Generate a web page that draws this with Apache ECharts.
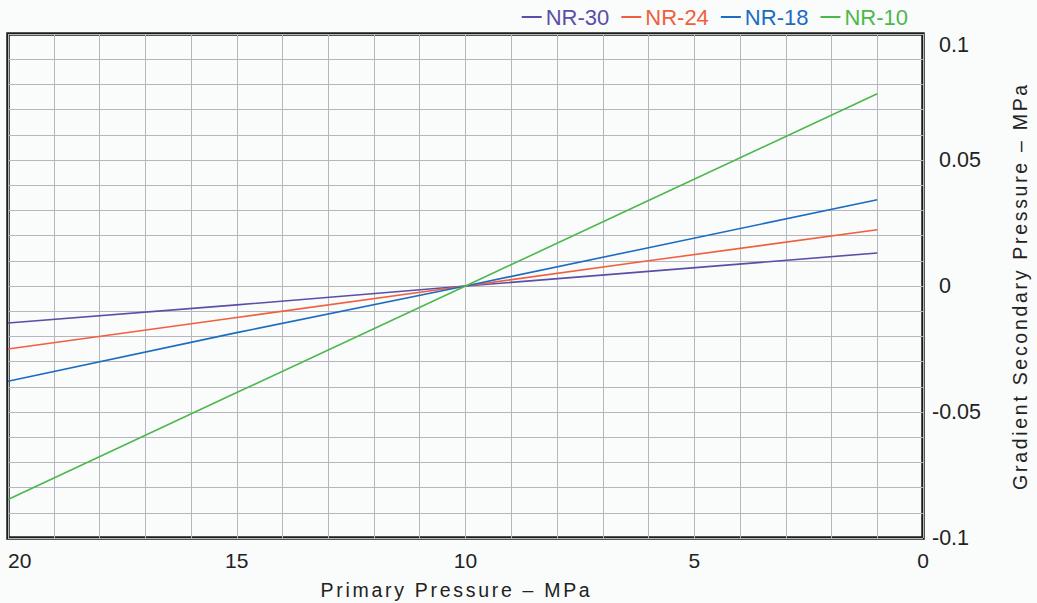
<!DOCTYPE html>
<html>
<head>
<meta charset="utf-8">
<script src="https://cdn.jsdelivr.net/npm/echarts@6/dist/echarts.min.js"></script>
<style>
html,body{margin:0;padding:0;background:#fafbfb;}
#c{width:1037px;height:603px;}
#c text[style*="19.5px"]{letter-spacing:2.7px;}
</style>
</head>
<body>
<div id="c"></div>
<script>
var seriesNames = ['NR-30', 'NR-24', 'NR-18', 'NR-10'];
var pressureX = [20, 15, 10, 6, 1];
var nr30 = [-0.0147, -0.0075, 0, 0.0058, 0.0131];
var nr24 = [-0.0250, -0.0125, 0, 0.0100, 0.0223];
var nr18 = [-0.0378, -0.0185, 0, 0.0152, 0.0342];
var nr10 = [-0.0847, -0.0423, 0, 0.0339, 0.0763];
var xTicks = [0, 5, 10, 15, 20];
var yTicks = ['-0.1', '-0.05', '0', '0.05', '0.1'];

var colors = ['#5a4ea6', '#f0603e', '#1c6cc0', '#4cb84c'];
var values = [nr30, nr24, nr18, nr10];

function pairs(xs, ys) { return xs.map(function (x, i) { return [x, ys[i]]; }); }

var chart = echarts.init(document.getElementById('c'), null, { renderer: 'svg' });
var font = 'Liberation Sans, Arial, sans-serif';
chart.setOption({
  backgroundColor: '#fafbfb',
  animation: false,
  legend: {
    top: 1,
    right: 124,
    itemGap: 12,
    itemWidth: 20,
    itemHeight: 2,
    icon: 'rect',
    textStyle: { fontFamily: font, fontSize: 22, padding: [0, 0, 0, -1] },
    data: seriesNames.map(function (n, i) {
      return { name: n, textStyle: { color: colors[i] } };
    })
  },
  grid: {
    left: 8, right: 114, top: 34, bottom: 65,
    outerBoundsMode: 'none', containLabel: false,
    show: true, borderColor: '#1c1c1c', borderWidth: 3.5, backgroundColor: 'transparent'
  },
  xAxis: {
    type: 'value', min: 0, max: 20, interval: 1, inverse: true,
    name: 'Primary Pressure – MPa', nameLocation: 'middle', nameGap: 42,
    nameTextStyle: { fontFamily: font, fontSize: 19.5, color: '#222', padding: [0, 18, 0, 0] },
    axisLine: { show: false }, axisTick: { show: false },
    axisLabel: {
      fontFamily: font, fontSize: 21, color: '#222', margin: 12,
      alignMaxLabel: 'left',
      formatter: function (v) { return xTicks.indexOf(Math.round(v)) >= 0 && Math.abs(v - Math.round(v)) < 1e-9 ? String(Math.round(v)) : ''; }
    },
    splitLine: { show: true, lineStyle: { color: '#b6b6be', width: 1 } }
  },
  yAxis: {
    type: 'value', min: -0.1, max: 0.1, interval: 0.01, position: 'right',
    name: 'Gradient Secondary Pressure – MPa', nameLocation: 'middle', nameGap: 87, nameRotate: 90,
    nameTextStyle: { fontFamily: font, fontSize: 19.5, color: '#222' },
    axisLine: { show: false }, axisTick: { show: false },
    axisLabel: {
      fontFamily: font, fontSize: 21.5, color: '#222', margin: 9,
      formatter: function (v) {
        var r = Math.round(v * 100);
        if (r % 5 !== 0) return '';
        var s = String(r / 100);
        if (yTicks.indexOf(s) < 0) return '';
        if (r === 10) return '{t|' + s + '}';
        return r < 0 ? '{n|' + s + '}' : '{p|' + s + '}';
      },
      rich: {
        t: { fontFamily: font, fontSize: 21.5, color: '#222', padding: [22, 0, 0, 7] },
        p: { fontFamily: font, fontSize: 21.5, color: '#222', padding: [0, 0, 0, 7] },
        n: { fontFamily: font, fontSize: 21.5, color: '#222', padding: [0, 0, 0, 0] }
      }
    },
    splitLine: { show: true, lineStyle: { color: '#b6b6be', width: 1 } }
  },
  series: seriesNames.map(function (n, i) {
    return {
      name: n, type: 'line', data: pairs(pressureX, values[i]),
      showSymbol: false, symbol: 'none',
      lineStyle: { color: colors[i], width: 1.6 },
      itemStyle: { color: colors[i] }
    };
  })
});
</script>
</body>
</html>
